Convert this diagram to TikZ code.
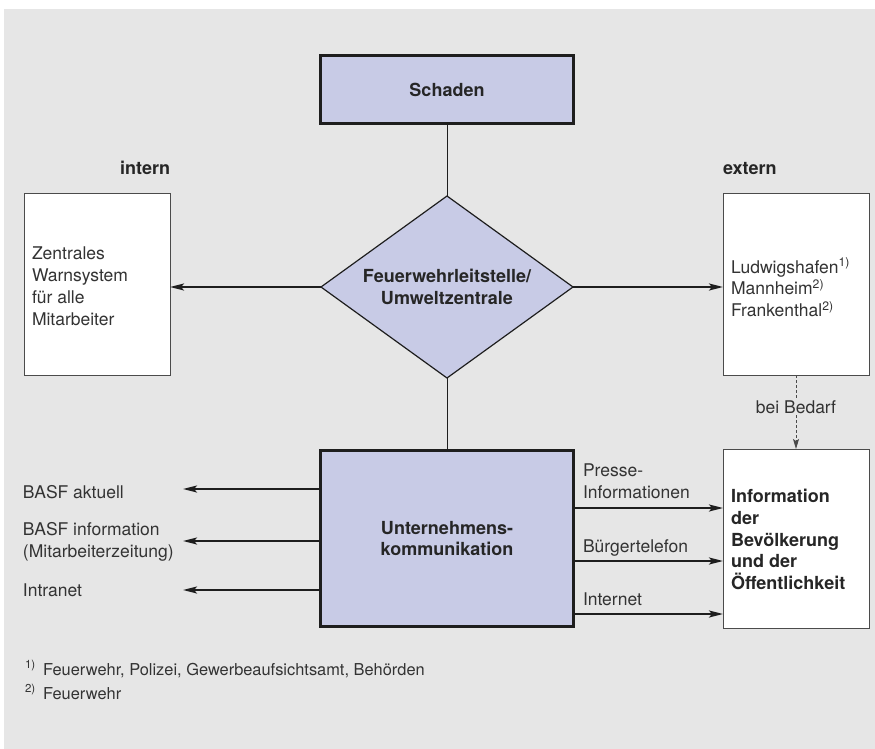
\documentclass[tikz,border=0pt]{standalone}
\usepackage{fontspec}
\setmainfont{TeX Gyre Heros}
\usetikzlibrary{shapes.geometric,arrows.meta}
\definecolor{bggray}{HTML}{E6E6E6}
\definecolor{lav}{HTML}{C8CBE6}
\definecolor{ink}{HTML}{333333}
\definecolor{edge}{HTML}{1E1E1E}

\begin{document}
\begin{tikzpicture}[x=1pt,y=-1pt,
  font=\fontsize{17.5}{21.7}\selectfont,
  every node/.style={inner sep=0pt, outer sep=0pt},
  mainbox/.style={draw=edge, line width=3pt, fill=lav, text=black!85,
    font=\fontsize{18}{21.7}\selectfont\bfseries, align=center},
  sidebox/.style={draw=edge!80, line width=1pt, fill=white},
  txt/.style={text=ink, align=left},
  note/.style={text=ink, align=left, font=\fontsize{16.4}{21.7}\selectfont},
  boldtxt/.style={text=black!85, align=left, font=\fontsize{18}{21.7}\selectfont\bfseries},
  feed/.style={line width=2pt, draw=edge, -{Stealth[length=14pt,width=7pt,inset=3pt]}},
  link/.style={line width=1pt, draw=edge},
  need/.style={line width=1pt, draw=edge!80, dash pattern=on 3pt off 2pt,
    -{Stealth[length=10pt,width=6pt,inset=2pt]}},
]
% canvas
\useasboundingbox (0,0) rectangle (875,749);
\fill[bggray] (4,9) rectangle (875,749);

% central chain
\node[mainbox, minimum width=253pt, minimum height=68pt] (schaden) at (447,89.5) {Schaden};
\node[diamond, draw=edge, line width=1.2pt, fill=lav, minimum width=252pt, minimum height=182pt,
  aspect=1.385, text=black!85, align=center,
  font=\fontsize{18}{21.7}\selectfont\bfseries] (leit) at (447,287)
  {Feuerwehrleitstelle/\\Umweltzentrale};
\node[mainbox, minimum width=253pt, minimum height=176pt] (uk) at (447,538.5)
  {Unternehmens-\\kommunikation};

% side boxes
\node[sidebox, minimum width=146pt, minimum height=182pt] (intern) at (97,284) {};
\node[sidebox, minimum width=146pt, minimum height=182pt] (extern) at (796,284) {};
\node[sidebox, minimum width=146pt, minimum height=179pt] (info) at (796,538.5) {};

\node[boldtxt, anchor=base east] (internlbl) at (170,174.5) {intern};
\node[boldtxt, anchor=base west] (externlbl) at (723,174.5) {extern};

% multi-line texts are placed by the baseline of their last line
\node[txt, anchor=base west] (interntxt) at (32,325)
  {Zentrales\\Warnsystem\\für alle\\Mitarbeiter};
\node[txt, anchor=base west] (externtxt) at (731,316.5)
  {Ludwigshafen\textsuperscript{1)}\\Mannheim\textsuperscript{2)}\\Frankenthal\textsuperscript{2)}};
\node[boldtxt, anchor=base west] (infotxt) at (731,589.5)
  {Information\\der\\Bevölkerung\\und der\\Öffentlichkeit};

% connectors
\draw[link] (schaden) -- (leit);
\draw[link] (leit) -- (uk);
\draw[feed] (leit.west) -- (leit.west -| intern.east);
\draw[feed] (leit.east) -- (leit.east -| extern.west);
\draw[need] (extern) -- node[pos=0.43, fill=bggray, text=ink, inner sep=2pt] (bedarf) {bei Bedarf} (info);

% internal channels
\coordinate (l1) at (183,489);
\coordinate (l2) at (183,541);
\coordinate (l3) at (183,590);
\draw[feed] (uk.west |- l1) -- (l1);
\draw[feed] (uk.west |- l2) -- (l2);
\draw[feed] (uk.west |- l3) -- (l3);
\node[txt, anchor=base west] (c1) at (23,498) {BASF aktuell};
\node[txt, anchor=base west] (c2) at (23,557.5) {BASF information\\(Mitarbeiterzeitung)};
\node[txt, anchor=base west] (c3) at (23,596.5) {Intranet};

% external channels
\coordinate (r1) at (0,508);
\coordinate (r2) at (0,561);
\coordinate (r3) at (0,614);
\draw[feed] (uk.east |- r1) -- (info.west |- r1);
\draw[feed] (uk.east |- r2) -- (info.west |- r2);
\draw[feed] (uk.east |- r3) -- (info.west |- r3);
\node[txt, anchor=base west] (p1) at (583,498) {Presse-\\Informationen};
\node[txt, anchor=base west] (p2) at (583,552.5) {Bürgertelefon};
\node[txt, anchor=base west] (p3) at (583,605.5) {Internet};

% footnotes
\node[note, anchor=base west] (fn1m) at (25,675) {\textsuperscript{1)}};
\node[note, anchor=base west] (fn1) at (43,675) {Feuerwehr, Polizei, Gewerbeaufsichtsamt, Behörden};
\node[note, anchor=base west] (fn2m) at (25,699) {\textsuperscript{2)}};
\node[note, anchor=base west] (fn2) at (43,699) {Feuerwehr};
\end{tikzpicture}
\end{document}
